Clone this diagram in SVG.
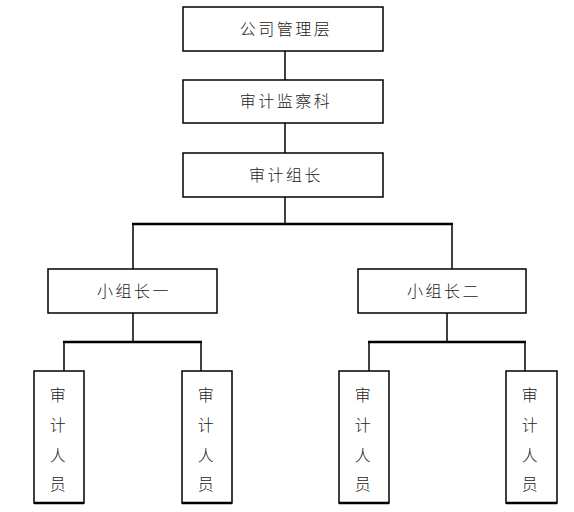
<svg xmlns="http://www.w3.org/2000/svg" width="574" height="512" viewBox="0 0 574 512">
<style>
.box{fill:#fff;stroke:#000;stroke-width:1.5}
.t{font-family:"Noto Sans CJK SC","Noto Sans CJK JP",sans-serif;font-size:16px;font-weight:300;fill:#222;text-anchor:middle;letter-spacing:2.5px}
.ln{stroke:#000;stroke-width:1.5;fill:none}
.bar{stroke:#000;stroke-width:2.5;fill:none}
</style>
<rect width="574" height="512" fill="#fff"/>
<g id="connectors">
<line class="ln" x1="285" y1="51" x2="285" y2="80"/>
<line class="ln" x1="285" y1="123" x2="285" y2="153"/>
<line class="ln" x1="285" y1="197" x2="285" y2="224"/>
<line class="bar" x1="132" y1="224" x2="453" y2="224"/>
<line class="ln" x1="133" y1="224" x2="133" y2="269"/>
<line class="ln" x1="452" y1="224" x2="452" y2="269"/>
<line class="ln" x1="133" y1="313" x2="133" y2="342"/>
<line class="bar" x1="63" y1="342" x2="202" y2="342"/>
<line class="ln" x1="64" y1="342" x2="64" y2="371"/>
<line class="ln" x1="201" y1="342" x2="201" y2="371"/>
<line class="ln" x1="447" y1="313" x2="447" y2="342"/>
<line class="bar" x1="368" y1="342" x2="526" y2="342"/>
<line class="ln" x1="369" y1="342" x2="369" y2="371"/>
<line class="ln" x1="525" y1="342" x2="525" y2="371"/>
</g>
<g id="n1"><rect class="box" x="183" y="7" width="200" height="44"/><text class="t" x="286" y="35">公司管理层</text></g>
<g id="n2"><rect class="box" x="183" y="80" width="200" height="43"/><text class="t" x="286" y="107">审计监察科</text></g>
<g id="n3"><rect class="box" x="183" y="153" width="200" height="44"/><text class="t" x="286" y="181">审计组长</text></g>
<g id="n4"><rect class="box" x="48" y="269" width="169" height="44"/><text class="t" x="134" y="297">小组长一</text></g>
<g id="n5"><rect class="box" x="358" y="269" width="168" height="44"/><text class="t" x="444" y="297">小组长二</text></g>
<g id="n6"><rect class="box" x="34" y="371" width="50" height="132"/><line class="bar" x1="34" y1="503" x2="84" y2="503"/><text class="t" letter-spacing="0"><tspan x="59" y="401">审</tspan><tspan x="59" y="431">计</tspan><tspan x="59" y="461">人</tspan><tspan x="59" y="490">员</tspan></text></g>
<g id="n7"><rect class="box" x="182" y="371" width="50" height="132"/><line class="bar" x1="182" y1="503" x2="232" y2="503"/><text class="t" letter-spacing="0"><tspan x="207" y="401">审</tspan><tspan x="207" y="431">计</tspan><tspan x="207" y="461">人</tspan><tspan x="207" y="490">员</tspan></text></g>
<g id="n8"><rect class="box" x="339" y="371" width="50" height="132"/><line class="bar" x1="339" y1="503" x2="389" y2="503"/><text class="t" letter-spacing="0"><tspan x="364" y="401">审</tspan><tspan x="364" y="431">计</tspan><tspan x="364" y="461">人</tspan><tspan x="364" y="490">员</tspan></text></g>
<g id="n9"><rect class="box" x="506" y="371" width="51" height="132"/><line class="bar" x1="506" y1="503" x2="557" y2="503"/><text class="t" letter-spacing="0"><tspan x="531" y="401">审</tspan><tspan x="531" y="431">计</tspan><tspan x="531" y="461">人</tspan><tspan x="531" y="490">员</tspan></text></g>
</svg>
